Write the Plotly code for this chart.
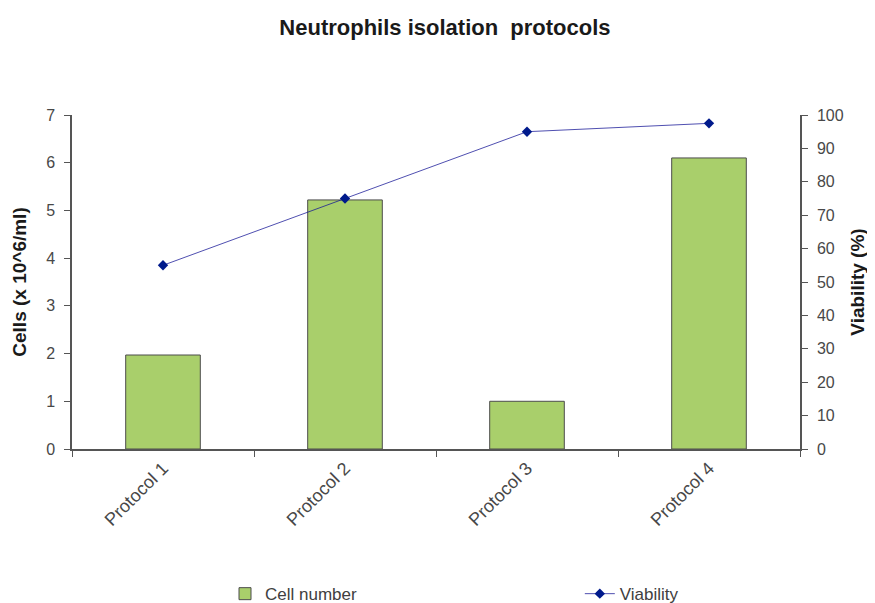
import plotly.graph_objects as go

categories = ["Protocol 1", "Protocol 2", "Protocol 3", "Protocol 4"]
cell_number = [1.97, 5.22, 1.0, 6.1]
viability = [55, 75, 95, 97.5]

FONT = "Liberation Sans, Arial, sans-serif"

fig = go.Figure()
fig.add_trace(go.Bar(
    x=categories, y=cell_number, name="Cell number",
    marker=dict(color="#a9cf6b", line=dict(color="#4d4d4d", width=1)),
    width=0.41, yaxis="y", legend="legend",
))
fig.add_trace(go.Scatter(
    x=categories, y=viability, name="Viability", mode="lines+markers",
    line=dict(color="rgba(20,20,150,0.75)", width=1),
    marker=dict(symbol="diamond", size=8, color="#001a8c"),
    yaxis="y2", legend="legend2",
))

tick_font = dict(family=FONT, size=16, color="#484848")
xtick_font = dict(family=FONT, size=18, color="#484848")
title_font = dict(family=FONT, size=19, color="#1a1a1a")
fig.update_layout(
    width=875, height=603,
    margin=dict(l=64, r=83, t=107, b=162),
    paper_bgcolor="white", plot_bgcolor="white",
    title=dict(text="<b>Neutrophils isolation  protocols</b>", x=0.4994, xanchor="center",
               y=0.9685, yanchor="middle",
               font=dict(family=FONT, size=22, color="#1a1a1a")),
    xaxis=dict(type="category", tickson="boundaries", ticks="outside", ticklen=6,
               tickcolor="#555", showline=True, linecolor="#555", linewidth=1.5,
               tickangle=-45, tickfont=xtick_font, showgrid=False, zeroline=False,
               automargin=False),
    yaxis=dict(range=[0, 7], dtick=1, ticks="outside", ticklen=6, tickcolor="#555",
               showline=True, linecolor="#555", linewidth=1.5, showgrid=False, zeroline=False,
               tickfont=tick_font, ticklabelstandoff=6, automargin=False,
               title=dict(text="<b>Cells (x 10^6/ml)</b>", standoff=14, font=title_font)),
    yaxis2=dict(range=[0, 100], dtick=10, overlaying="y", side="right", ticks="outside",
                ticklen=6, tickcolor="#555", showline=True, linecolor="#555", linewidth=1.5,
                showgrid=False, zeroline=False, tickfont=tick_font, ticklabelstandoff=6,
                automargin=False,
                title=dict(text="<b>Viability (%)</b>", standoff=8, font=title_font)),
    showlegend=True,
    legend=dict(orientation="h", xref="container", yref="container",
                x=0.248, xanchor="left", y=0.028, yanchor="middle",
                font=dict(family=FONT, size=17, color="#404040"), bgcolor="rgba(0,0,0,0)"),
    legend2=dict(orientation="h", xref="container", yref="container",
                 x=0.6535, xanchor="left", y=0.028, yanchor="middle",
                 font=dict(family=FONT, size=17, color="#404040"), bgcolor="rgba(0,0,0,0)"),
)

fig.write_html("out.html")
